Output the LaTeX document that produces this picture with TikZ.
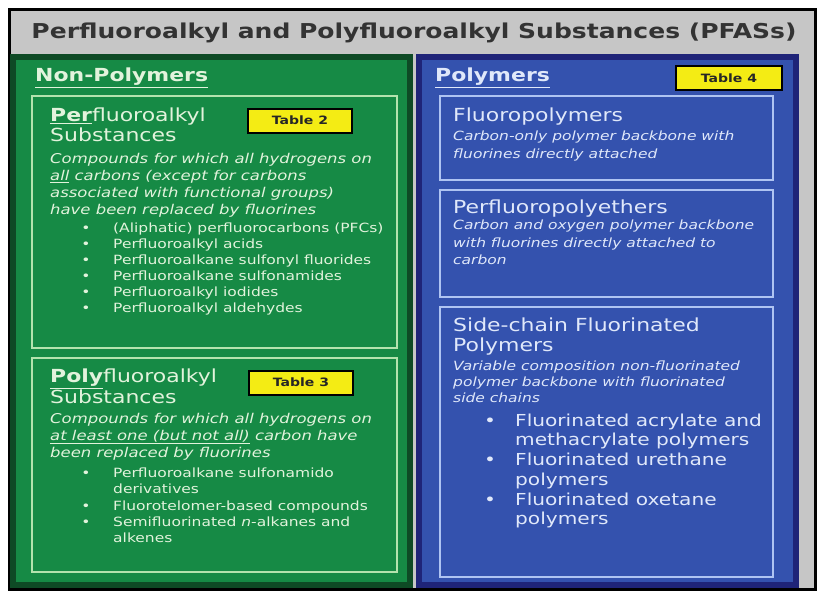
\documentclass[tikz,border=0pt]{standalone}
\usepackage{fontspec}
\setmainfont{DejaVu Sans}[FakeStretch=1.22]
\usepackage{tikz}
\usepackage{xcolor}
\definecolor{bggray}{HTML}{C6C6C6}
\definecolor{titlegray}{HTML}{333333}
\definecolor{npgreen}{HTML}{168A45}
\definecolor{npedge}{HTML}{0E4A25}
\definecolor{npline}{HTML}{B4E3AE}
\definecolor{nptext}{HTML}{E2F3DC}
\definecolor{pblue}{HTML}{3452AE}
\definecolor{pedge}{HTML}{1F2478}
\definecolor{pline}{HTML}{AFC4F2}
\definecolor{ptext}{HTML}{E0E8FA}
\definecolor{tabyellow}{HTML}{F4EC14}
\newcommand{\fsz}[2]{\fontsize{#1}{#2}\selectfont}

\begin{document}
\begin{tikzpicture}[x=1pt,y=-1pt,
  txt/.style={anchor=base west,inner sep=0pt,align=left},
  panelhead/.style={txt,font=\fsz{18}{20}\bfseries},
  boxhead/.style={txt,font=\fsz{18}{20}},
  tabbox/.style={draw=black,line width=2pt,fill=tabyellow,minimum width=104pt,
    minimum height=24pt,inner sep=0pt,font=\fsz{11.5}{12}\bfseries,text=black!85},
  dot/.style={anchor=base,inner sep=0pt}]
  \useasboundingbox (0,0) rectangle (820,595);
  \fill[white] (0,0) rectangle (820,595);
  \draw[line width=3pt,fill=bggray] (9,9) rectangle (815,589);
  % multi-line nodes sit on the baseline of their last line
  \node[anchor=base,inner sep=0pt,text=titlegray,font=\fsz{20.5}{22}\bfseries] (title) at (414,38)
    {Perfluoroalkyl and Polyfluoroalkyl Substances (PFASs)};

  % non-polymers
  \draw[draw=npedge,line width=6pt,fill=npgreen] (13,57) rectangle (410,585);
  \draw[npline,line width=2pt] (32,96) rectangle (397,348);
  \draw[npline,line width=2pt] (32,358) rectangle (397,572);
  \begin{scope}[text=nptext]
    \node[panelhead] (nonpoly) at (35,81.5) {\underline{Non-Polymers}};
    \node[boxhead] (perhead) at (50,141.5) {\underline{\textbf{Per}}fluoroalkyl\\Substances};
    \node[tabbox] (tab2) at (300,120.5) {Table 2};
    \node[txt,font=\fsz{13.5}{17.3}\itshape] (perdesc) at (50,214.9)
      {Compounds for which all hydrogens on\\\underline{all} carbons (except for carbons\\associated with functional groups)\\have been replaced by fluorines};
    \foreach \t [count=\i] in {(Aliphatic) perfluorocarbons (PFCs),Perfluoroalkyl acids,
      Perfluoroalkane sulfonyl fluorides,Perfluoroalkane sulfonamides,
      Perfluoroalkyl iodides,Perfluoroalkyl aldehydes} {
      \node[dot,font=\fsz{12.7}{16}] (perdot\i) at (86,{232.5+16*(\i-1)}) {\textbullet};
      \node[txt,font=\fsz{12.7}{16}] (peritem\i) at (113,{232.5+16*(\i-1)}) {\t};
    }
    \node[boxhead,font=\fsz{18}{19}] (polyhead) at (50,403.5) {\underline{\textbf{Poly}}fluoroalkyl\\Substances};
    \node[tabbox] (tab3) at (301,382.5) {Table 3};
    \node[txt,font=\fsz{13.5}{17}\itshape] (polydesc) at (50,457)
      {Compounds for which all hydrogens on\\\underline{at least one (but not all)} carbon have\\been replaced by fluorines};
    \node[dot,font=\fsz{12.7}{16.3}] (polydot1) at (86,477.5) {\textbullet};
    \node[txt,font=\fsz{12.7}{16.3}] (polyitem1) at (113,493.8) {Perfluoroalkane sulfonamido\\derivatives};
    \node[dot,font=\fsz{12.7}{16.3}] (polydot2) at (86,510) {\textbullet};
    \node[txt,font=\fsz{12.7}{16.3}] (polyitem2) at (113,510) {Fluorotelomer-based compounds};
    \node[dot,font=\fsz{12.7}{16.3}] (polydot3) at (86,526.5) {\textbullet};
    \node[txt,font=\fsz{12.7}{16.3}] (polyitem3) at (113,542.8) {Semifluorinated \textit{n}-alkanes and\\alkenes};
  \end{scope}

  % polymers
  \draw[draw=pedge,line width=6pt,fill=pblue] (419,57) rectangle (796,585);
  \draw[pline,line width=2pt] (440,96) rectangle (773,180);
  \draw[pline,line width=2pt] (440,190) rectangle (773,297);
  \draw[pline,line width=2pt] (440,307) rectangle (773,577);
  \begin{scope}[text=ptext]
    \node[panelhead] (poly) at (435,81.5) {\underline{Polymers}};
    \node[tabbox,minimum width=106pt] (tab4) at (729,78) {Table 4};
    \node[boxhead] (fphead) at (453,121.5) {Fluoropolymers};
    \node[txt,font=\fsz{12.7}{18}\itshape] (fpdesc) at (453,158.5)
      {Carbon-only polymer backbone with\\fluorines directly attached};
    \node[boxhead] (pfpehead) at (453,213.5) {Perfluoropolyethers};
    \node[txt,font=\fsz{12.7}{17.5}\itshape] (pfpedesc) at (453,264.5)
      {Carbon and oxygen polymer backbone\\with fluorines directly attached to\\carbon};
    \node[boxhead] (schead) at (453,351.5) {Side-chain Fluorinated\\Polymers};
    \node[txt,font=\fsz{12.7}{16}\itshape] (scdesc) at (453,402.5)
      {Variable composition non-fluorinated\\polymer backbone with fluorinated\\side chains};
    \node[dot,font=\fsz{16.5}{19.6}] (scdot1) at (490,426) {\textbullet};
    \node[txt,font=\fsz{16.5}{19.6}] (scitem1) at (515,445.6) {Fluorinated acrylate and\\methacrylate polymers};
    \node[dot,font=\fsz{16.5}{19.6}] (scdot2) at (490,465.5) {\textbullet};
    \node[txt,font=\fsz{16.5}{19.6}] (scitem2) at (515,485.1) {Fluorinated urethane\\polymers};
    \node[dot,font=\fsz{16.5}{19.6}] (scdot3) at (490,505) {\textbullet};
    \node[txt,font=\fsz{16.5}{19.6}] (scitem3) at (515,524.6) {Fluorinated oxetane\\polymers};
  \end{scope}
\end{tikzpicture}
\end{document}
